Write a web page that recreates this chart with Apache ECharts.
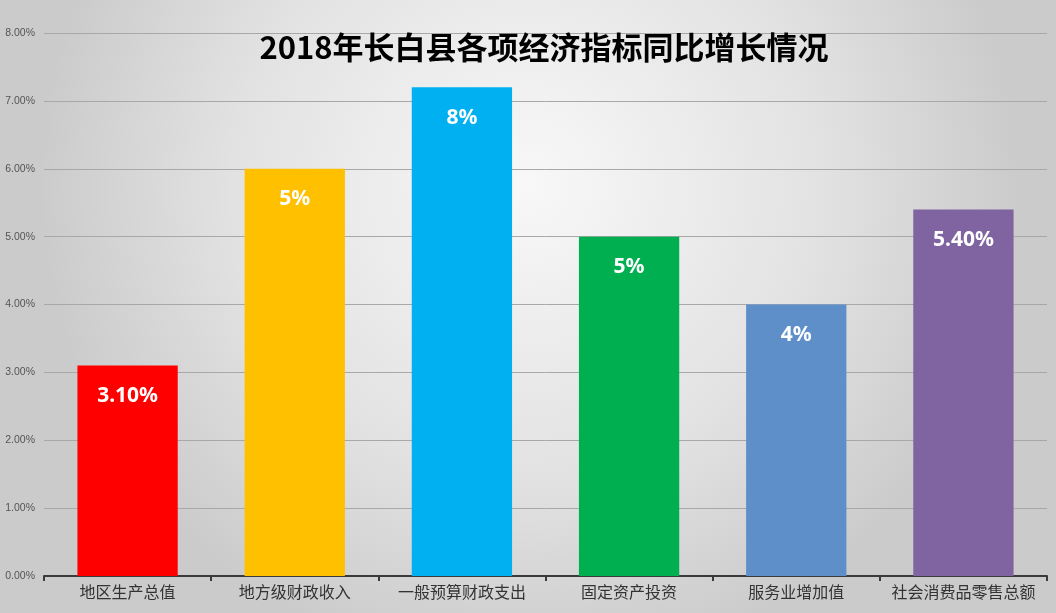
<!DOCTYPE html>
<html><head><meta charset="utf-8">
<script src="https://cdn.jsdelivr.net/npm/echarts@6/dist/echarts.min.js"></script>
<style>html,body{margin:0;padding:0;}#c{width:1056px;height:613px;}</style>
</head><body><div id="c"></div>
<script>
const title = '2018年长白县各项经济指标同比增长情况';
const categories = ['地区生产总值','地方级财政收入','一般预算财政支出','固定资产投资','服务业增加值','社会消费品零售总额'];
const values = [3.1, 6.0, 7.2, 5.0, 4.0, 5.4];
const labels = ['3.10%','5%','8%','5%','4%','5.40%'];
const colors = ['#FF0000','#FFC000','#00B0F0','#00B050','#5F8FC9','#8064A2'];

const chart = echarts.init(document.getElementById('c'));
chart.setOption({
  backgroundColor: {type:'radial', x:0.5, y:0.3, r:0.8, colorStops:[{offset:0,color:'#f8f8f8'},{offset:0.6,color:'#e2e2e2'},{offset:1,color:'#cbcbcb'}]},
  title: {text:title, left:539, textAlign:'center', top:27, textStyle:{fontFamily:'Noto Sans CJK SC', fontWeight:'bold', fontSize:31, color:'#000'}},
  grid: {left:44, right:9, top:33, bottom:37},
  xAxis: {type:'category', data:categories,
    axisLine:{lineStyle:{color:'#3a3a3a', width:2}},
    axisTick:{show:true, length:5, lineStyle:{color:'#3a3a3a', width:2}},
    axisLabel:{interval:0, fontFamily:'Noto Sans CJK SC', fontSize:16, color:'#333', margin:8}},
  yAxis: {type:'value', min:0, max:8, interval:1,
    axisLabel:{formatter:v=>v.toFixed(2)+'%', fontFamily:'Liberation Sans', fontSize:10.5, color:'#555', margin:9},
    splitLine:{lineStyle:{color:'#a8a8a8', width:1}}},
  series:[{type:'bar', barCategoryGap:'40%',
    data: values.map((v,i)=>({value:v, itemStyle:{color:colors[i]}, label:{formatter:labels[i]}})),
    label:{show:true, position:'insideTop', distance:20, color:'#fff', fontFamily:'Noto Sans', fontWeight:'bold', fontSize:21}
  }]
});
</script></body></html>
